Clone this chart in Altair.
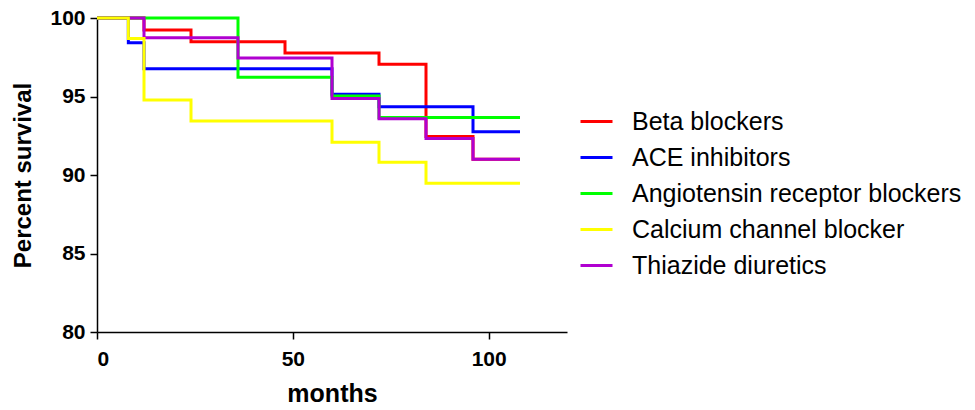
import altair as alt
import pandas as pd

series_names = ["Beta blockers", "ACE inhibitors", "Angiotensin receptor blockers",
                "Calcium channel blocker", "Thiazide diuretics"]
series_colors = ["#FF0000", "#0000FF", "#00FF00", "#FFFF00", "#B000D0"]

beta_t = [0, 12, 24, 48, 72, 84, 96, 108]
beta_s = [100, 99.24, 98.49, 97.77, 97.05, 92.45, 91.0, 91.0]

ace_t = [0, 8, 12, 60, 72, 96, 108]
ace_s = [100, 98.42, 96.77, 95.14, 94.35, 92.76, 92.76]

arb_t = [0, 36, 60, 72, 108]
arb_s = [100, 96.22, 95.03, 93.67, 93.67]

ccb_t = [0, 8, 12, 24, 60, 72, 84, 108]
ccb_s = [100, 98.7, 94.78, 93.44, 92.08, 90.81, 89.47, 89.47]

thz_t = [0, 12, 36, 60, 72, 84, 96, 108]
thz_s = [100, 98.75, 97.45, 94.87, 93.59, 92.33, 91.0, 91.0]

x_ticks = [0, 50, 100]
y_ticks = [80, 85, 90, 95, 100]

series_data = {
    "Beta blockers": (beta_t, beta_s),
    "ACE inhibitors": (ace_t, ace_s),
    "Angiotensin receptor blockers": (arb_t, arb_s),
    "Calcium channel blocker": (ccb_t, ccb_s),
    "Thiazide diuretics": (thz_t, thz_s),
}

rows = []
for name, (ts, ss) in series_data.items():
    for t, s in zip(ts, ss):
        rows.append({"series": name, "months": t, "survival": s})
df = pd.DataFrame(rows)

color_scale = alt.Scale(domain=series_names, range=series_colors)

draw_order = ["Beta blockers", "ACE inhibitors", "Angiotensin receptor blockers",
              "Thiazide diuretics", "Calcium channel blocker"]

layers = []
for i, name in enumerate(draw_order):
    layer = alt.Chart(df).transform_filter(
        alt.datum.series == name
    ).mark_line(interpolate="step-after", strokeWidth=3).encode(
        x=alt.X("months:Q", scale=alt.Scale(domain=[0, 120], nice=False),
                axis=alt.Axis(title="months", values=x_ticks, grid=False,
                              tickSize=7, labelPadding=9, titlePadding=12,
                              labelFontSize=21, labelFontWeight="bold",
                              titleFontSize=25, titleFontWeight="bold")),
        y=alt.Y("survival:Q", scale=alt.Scale(domain=[80, 100], nice=False, zero=False),
                axis=alt.Axis(title="Percent survival", values=y_ticks, grid=False,
                              tickSize=7, labelPadding=5, titlePadding=14,
                              labelFontSize=21, labelFontWeight="bold",
                              titleFontSize=24, titleFontWeight="bold")),
        color=alt.Color("series:N", scale=color_scale,
                        legend=alt.Legend(title=None, orient="none",
                                          legendX=482, legendY=86,
                                          symbolType="stroke", symbolStrokeWidth=3,
                                          symbolSize=1024, labelFontSize=25,
                                          labelOffset=18, rowPadding=5,
                                          padding=0, labelLimit=400,
                                          values=series_names)),
    )
    layers.append(layer)

chart = alt.layer(*layers).properties(
    width=470, height=314,
    autosize=alt.AutoSizeParams(type="none"),
    padding={"left": 97, "top": 18, "right": 408, "bottom": 78},
).configure(
    font="Liberation Sans",
).configure_view(
    stroke=None,
).configure_axis(
    domainColor="black", tickColor="black", domainWidth=1.5, tickWidth=1.5,
    labelColor="black", titleColor="black",
).configure_legend(
    labelColor="black",
)

chart.save("out.html", embed_options={"renderer": "svg", "actions": False})
